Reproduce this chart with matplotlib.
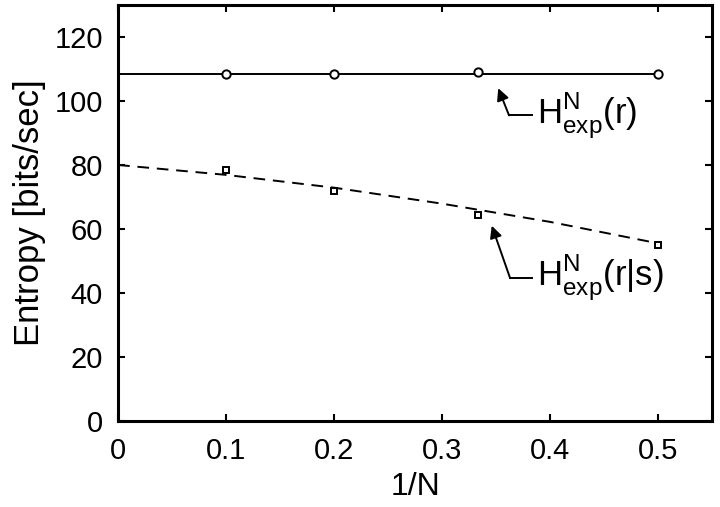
import numpy as np
import matplotlib.pyplot as plt

plt.rcParams['font.family'] = ['Liberation Sans', 'DejaVu Sans']
plt.rcParams['mathtext.fontset'] = 'custom'
plt.rcParams['mathtext.rm'] = 'Liberation Sans'

# donnees
invN = [0.1, 0.2, 1/3, 0.5]
h_r = [108.5, 108.5, 109.0, 108.5]
h_rs = [78.5, 72.0, 64.5, 55.0]

# ajustements (lignes)
fit_r_x = [0, 0.5]
fit_r_y = [108.5, 108.5]
fit_rs_x = [0, 0.1, 0.2, 0.3, 0.4, 0.5]
fit_rs_y = [80.0, 76.9, 72.9, 67.9, 62.2, 55.5]

fig = plt.figure(figsize=(7.2, 5.07), dpi=100)
ax = fig.add_axes([0.164, 0.170, 0.825, 0.820])

ax.plot(fit_r_x, fit_r_y, color='black', lw=1.4)
ax.plot(invN, h_r, 'o', mfc='white', mec='black', mew=1.4, ms=6)
ax.plot(fit_rs_x, fit_rs_y, color='black', lw=1.4, ls=(0, (6, 4)))
ax.plot(invN, h_rs, 's', mfc='white', mec='black', mew=1.4, ms=5)

ax.set_xlim(0, 0.55)
ax.set_ylim(0, 130)
ax.set_xticks([0, 0.1, 0.2, 0.3, 0.4, 0.5])
ax.set_xticklabels(['0', '0.1', '0.2', '0.3', '0.4', '0.5'])
ax.set_yticks(np.arange(0, 121, 20))
ax.tick_params(direction='in', length=5, width=1.5, top=True, right=True,
               labelsize=21)
ax.tick_params(axis='x', pad=12)
ax.tick_params(axis='y', pad=11)
for s in ax.spines.values():
    s.set_linewidth(2.2)

ax.set_xlabel('1/N', fontsize=23, labelpad=5)
ax.set_ylabel('Entropy [bits/sec]', fontsize=25, labelpad=6)

# fleches + etiquettes
ax.annotate('', xy=(0.352, 104), xytext=(0.362, 95.5),
            arrowprops=dict(arrowstyle='-|>', color='black', lw=1.4,
                            mutation_scale=18, shrinkA=0, shrinkB=0))
ax.plot([0.362, 0.383], [95.5, 95.5], color='black', lw=1.4)
ax.text(0.388, 95.5, r'H$^{\rm N}_{\rm exp}$(r)', fontsize=25, va='center', ha='left')

ax.annotate('', xy=(0.346, 61), xytext=(0.363, 44.6),
            arrowprops=dict(arrowstyle='-|>', color='black', lw=1.4,
                            mutation_scale=18, shrinkA=0, shrinkB=0))
ax.plot([0.363, 0.383], [44.6, 44.6], color='black', lw=1.4)
ax.text(0.388, 44.6, r'H$^{\rm N}_{\rm exp}$(r|s)', fontsize=25, va='center', ha='left')

fig.savefig('out.png', dpi=100)
